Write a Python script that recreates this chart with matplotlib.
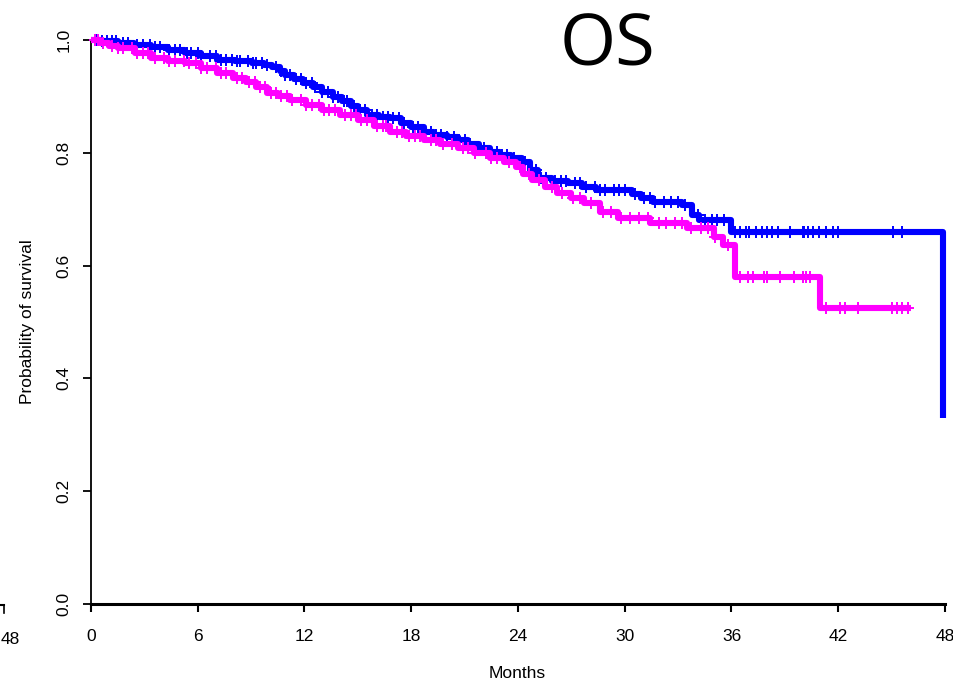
import numpy as np
import matplotlib
matplotlib.use("Agg")
import matplotlib.pyplot as plt
from matplotlib.lines import Line2D

# Kaplan-Meier step knots (months, survival probability)
blue_t = [0.0, 0.6, 1.5, 2.4, 3.4, 4.3, 5.3, 6.2, 7.1, 8.1, 9.05, 9.7, 10.2, 10.6,
          10.9, 11.4, 11.9, 12.5, 13.0, 13.6, 14.1, 14.6, 15.0, 15.5, 16.2, 16.8,
          17.4, 18.0, 18.7, 19.3, 20.0, 20.6, 21.2, 21.8, 22.4, 23.0, 23.6, 24.2,
          24.7, 25.1, 25.9, 26.8, 27.6, 28.4, 30.4, 30.9, 31.6, 33.2, 33.8, 34.2,
          36.0, 47.9]
blue_s = [1.000, 0.998, 0.995, 0.991, 0.988, 0.983, 0.977, 0.971, 0.965, 0.962,
          0.959, 0.956, 0.952, 0.945, 0.938, 0.931, 0.924, 0.916, 0.908, 0.899,
          0.891, 0.883, 0.876, 0.867, 0.864, 0.861, 0.853, 0.845, 0.837, 0.832,
          0.828, 0.823, 0.816, 0.808, 0.801, 0.796, 0.791, 0.783, 0.770, 0.755,
          0.750, 0.746, 0.740, 0.734, 0.727, 0.720, 0.713, 0.707, 0.690, 0.681,
          0.660, 0.330]

magenta_t = [0.0, 0.5, 1.0, 1.5, 2.5, 3.4, 4.3, 5.3, 6.2, 7.1, 8.0, 8.7, 9.3, 9.9,
             10.5, 11.2, 12.1, 13.0, 14.0, 15.0, 15.9, 16.8, 17.7, 18.7, 19.6, 20.6,
             21.5, 22.4, 23.2, 23.9, 24.3, 24.8, 25.5, 26.2, 27.0, 27.7, 28.6, 29.6,
             31.4, 33.5, 35.0, 35.5, 36.2, 41.0]
magenta_s = [1.000, 0.995, 0.990, 0.986, 0.977, 0.968, 0.963, 0.959, 0.950, 0.941,
             0.933, 0.926, 0.916, 0.906, 0.900, 0.894, 0.885, 0.876, 0.867, 0.858,
             0.848, 0.837, 0.830, 0.823, 0.816, 0.809, 0.800, 0.791, 0.783, 0.775,
             0.763, 0.752, 0.740, 0.729, 0.720, 0.711, 0.695, 0.684, 0.676, 0.667,
             0.651, 0.637, 0.580, 0.525]
magenta_end = 46.1

# Censoring times (months)
blue_cens = [0.3, 0.6, 0.9, 1.2, 1.4, 1.8, 2.1, 2.6, 2.9, 3.3, 3.6, 3.9, 4.4, 4.7,
             5.0, 5.4, 5.6, 6.0, 6.2, 6.7, 7.0, 7.3, 7.6, 7.9, 8.2, 8.4, 8.8, 9.1,
             9.3, 9.6, 9.9, 10.4, 10.7, 10.9, 11.2, 11.5, 11.8, 12.1, 12.4, 12.6,
             13.0, 13.3, 13.6, 13.9, 14.2, 14.4, 14.8, 15.1, 15.4, 15.8, 16.1, 16.4,
             16.7, 17.0, 17.3, 17.6, 18.1, 18.4, 18.8, 19.1, 19.4, 19.7, 20.0, 20.4,
             20.7, 21.0, 21.3, 21.8, 22.1, 22.5, 22.8, 23.1, 23.4, 23.8, 24.4,
             25.0, 25.3, 25.6, 26.1, 26.4, 26.7, 27.2, 27.5, 27.8, 28.3, 28.6, 28.9,
             29.4, 29.7, 30.0, 30.6, 31.1, 31.4, 31.7, 32.2, 32.6, 33.0, 33.4, 34.1,
             34.5, 34.9, 35.2, 35.6, 36.2, 36.5, 36.8, 37.0, 37.4, 37.7, 38.0, 38.3,
             38.6, 39.3, 40.0, 40.1, 40.3, 40.6, 40.9, 41.3, 41.7, 42.0, 45.1, 45.6]
magenta_cens = [0.2, 0.4, 0.7, 1.2, 1.5, 1.8, 2.3, 2.6, 2.9, 3.2, 3.6, 4.1, 4.4,
                4.7, 5.2, 5.5, 5.9, 6.2, 6.5, 7.0, 7.3, 7.6, 8.2, 8.5, 8.9, 9.2, 9.5,
                9.8, 10.1, 10.4, 10.7, 11.0, 11.3, 11.8, 12.1, 12.4, 12.8, 13.1,
                13.4, 13.7, 14.3, 14.6, 14.9, 15.2, 15.5, 16.1, 16.4, 16.6, 17.2,
                17.5, 17.9, 18.2, 18.5, 19.1, 19.4, 19.8, 20.3, 20.9, 21.2, 21.6,
                22.2, 22.5, 22.8, 23.5, 24.1, 24.6, 25.2, 25.9, 26.5, 27.1, 27.5,
                28.1, 28.8, 29.2, 29.8, 30.3, 30.8, 31.3, 31.9, 32.3, 32.8, 33.2,
                33.7, 34.3, 34.7, 35.1, 35.8, 36.5, 36.9, 37.2, 37.8, 38.0, 38.7,
                39.5, 40.0, 40.2, 40.4, 41.3, 42.1, 42.4, 43.1, 45.0, 45.3, 45.6,
                45.9]

x_ticks = [0, 6, 12, 18, 24, 30, 36, 42, 48]
y_ticks = [0.0, 0.2, 0.4, 0.6, 0.8, 1.0]
y_ticklabels = ["0.0", "0.2", "0.4", "0.6", "0.8", "1.0"]

BLUE = "#0000FF"
MAGENTA = "#FF00FF"

plt.rcParams["font.family"] = ["Liberation Sans", "DejaVu Sans"]

W, H = 954, 683
fig = plt.figure(figsize=(W / 100, H / 100), dpi=100)
ax = fig.add_axes([91 / W, 1 - 604 / H, (945 - 91) / W, (604 - 40) / H])


def surv_at(times, t_knots, s_knots):
    idx = np.searchsorted(np.asarray(t_knots), np.asarray(times), side="right") - 1
    return np.asarray(s_knots)[idx]


def draw_curve(t_knots, s_knots, t_end, cens, color):
    t = list(t_knots) + [t_end]
    s = list(s_knots) + [s_knots[-1]]
    ax.step(t, s, where="post", color=color, lw=4.4, solid_capstyle="butt",
            clip_on=False, zorder=3)
    ax.plot(cens, surv_at(cens, t_knots, s_knots), ls="none", marker="+",
            ms=8, mew=1.4, color=color, clip_on=False, zorder=3)


draw_curve(blue_t, blue_s, blue_t[-1], blue_cens, BLUE)
draw_curve(magenta_t, magenta_s, magenta_end, magenta_cens, MAGENTA)

ax.set_xlim(0, 48)
ax.set_ylim(0, 1)
for side in ("top", "right"):
    ax.spines[side].set_visible(False)
ax.spines["bottom"].set_linewidth(2.2)
ax.spines["left"].set_linewidth(1.3)
ax.set_xticks(x_ticks)
ax.set_xticklabels([str(v) for v in x_ticks], fontsize=12.5)
ax.set_yticks(y_ticks)
ax.set_yticklabels(y_ticklabels, fontsize=12.5, rotation=90, va="center")
ax.tick_params(axis="x", length=6, width=1.5, pad=12)
ax.tick_params(axis="y", length=6, width=1.3, pad=8)

fig.text(28 / W, 1 - 322 / H, "Probability of survival", rotation=90,
         ha="center", va="center", fontsize=12.5)
fig.text(517 / W, 1 - 674 / H, "Months", ha="center", va="center", fontsize=12.5)
fig.text(608 / W, 1 - 47 / H, "OS", ha="center", va="center", fontsize=52,
         family=["Open Sans", "DejaVu Sans"])

# fragment of the neighbouring panel's axis at the left edge
fig.text(0.5 / W, 1 - 639 / H, "48", ha="left", va="center", fontsize=12.5)
fig.add_artist(Line2D([0, 4.5 / W], [1 - 605 / H, 1 - 605 / H], color="black",
                      lw=1.5, transform=fig.transFigure))
fig.add_artist(Line2D([4 / W, 4 / W], [1 - 605 / H, 1 - 613 / H], color="black",
                      lw=1.2, transform=fig.transFigure))

fig.savefig("out.png", dpi=100)
